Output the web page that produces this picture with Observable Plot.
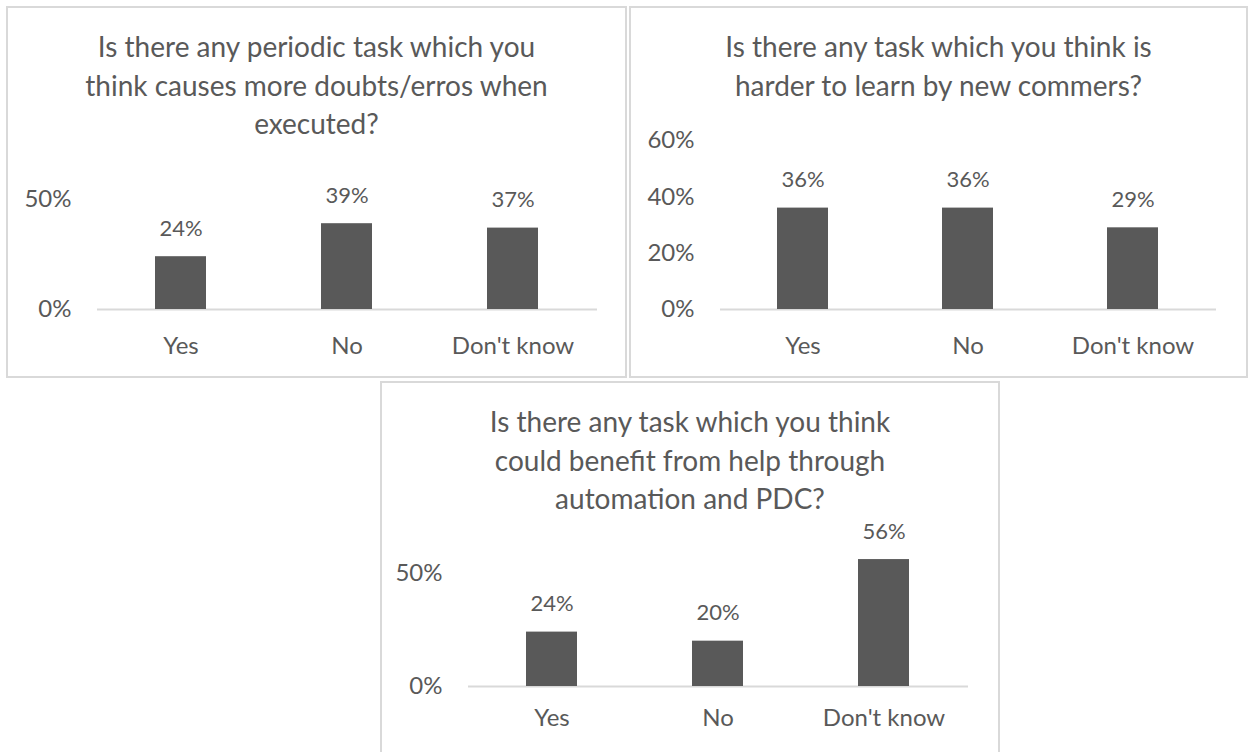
<!DOCTYPE html>
<html>
<head>
<meta charset="utf-8">
<script src="https://cdn.jsdelivr.net/npm/d3@7"></script>
<script src="https://cdn.jsdelivr.net/npm/@observablehq/plot@0.6"></script>
<style>
  html, body { margin: 0; padding: 0; background: #fff; }
  #page { position: relative; width: 1248px; height: 752px; overflow: hidden; background: #fff; font-family: Lato, "Open Sans", sans-serif; }
  .panel { position: absolute; box-sizing: border-box; border: 2px solid #d9d9d9; background: #fff; }
  .title { position: absolute; left: 0; right: 0; text-align: center; color: #595959; font-size: 28px; line-height: 38.5px; white-space: nowrap; }
  .plot { position: absolute; left: 0; }
</style>
</head>
<body>
<div id="page"></div>
<script>
// ---- data ----
const categories = ["Yes", "No", "Don't know"];
const titles = [
  ["Is there any periodic task which you", "think causes more doubts/erros when", "executed?"],
  ["Is there any task which you think is", "harder to learn by new commers?"],
  ["Is there any task which you think", "could benefit from help through", "automation and PDC?"]
];
const valuesDoubts = [0.24, 0.39, 0.37];
const valuesHarder = [0.36, 0.36, 0.29];
const valuesAutomation = [0.24, 0.20, 0.56];
const ticksDoubts = [0, 0.5];
const ticksHarder = [0, 0.2, 0.4, 0.6];
const ticksAutomation = [0, 0.5];

// ---- layout ----
const panels = [
  {title: titles[0], values: valuesDoubts, ticks: ticksDoubts, domain: [0, 0.5],
   left: 6, top: 6, width: 621, height: 372, titleTop: 19,
   svgTop: 144, svgHeight: 226, marginLeft: 91, marginRight: 30, marginTop: 49, marginBottom: 67, xPad: 27},
  {title: titles[1], values: valuesHarder, ticks: ticksHarder, domain: [0, 0.6],
   left: 629, top: 6, width: 619, height: 372, titleTop: 19,
   svgTop: 114, svgHeight: 256, marginLeft: 91, marginRight: 32, marginTop: 20, marginBottom: 67, xPad: 27},
  {title: titles[2], values: valuesAutomation, ticks: ticksAutomation, domain: [0, 0.6],
   left: 380, top: 381, width: 620, height: 380, titleTop: 19,
   svgTop: 139, svgHeight: 226, marginLeft: 88, marginRight: 32, marginTop: 30, marginBottom: 60, xPad: 22}
];

const fmt = d3.format(".0%");
const page = document.getElementById("page");

for (const p of panels) {
  const div = document.createElement("div");
  div.className = "panel";
  Object.assign(div.style, {left: p.left + "px", top: p.top + "px", width: p.width + "px", height: p.height + "px"});
  const t = document.createElement("div");
  t.className = "title";
  t.style.top = p.titleTop + "px";
  t.innerHTML = p.title.join("<br>");
  div.appendChild(t);

  const data = categories.map((c, i) => ({cat: c, val: p.values[i]}));
  const chart = Plot.plot({
    width: p.width - 4,
    height: p.svgHeight,
    marginLeft: p.marginLeft - 2,
    marginRight: p.marginRight - 2,
    marginTop: p.marginTop,
    marginBottom: p.marginBottom,
    style: {fontFamily: "Lato, 'Open Sans', sans-serif", fontSize: "24px", color: "#595959", background: "transparent", overflow: "visible"},
    x: {domain: categories, paddingInner: 0.69, paddingOuter: 0.345},
    y: {domain: p.domain, nice: false},
    marks: [
      Plot.axisY({ticks: p.ticks, tickFormat: fmt, tickSize: 0, tickPadding: 26, label: null, fontSize: 24}),
      Plot.axisX({tickSize: 0, tickPadding: p.xPad, label: null, fontSize: 24}),
      Plot.ruleY([0], {stroke: "#d9d9d9", strokeWidth: 2}),
      Plot.barY(data, {x: "cat", y: "val", fill: "#595959"}),
      Plot.text(data, {x: "cat", y: "val", text: d => fmt(d.val), dy: -28, fill: "#595959", fontSize: 22})
    ]
  });
  chart.classList.add("plot");
  chart.style.top = (p.svgTop - 2) + "px";
  div.appendChild(chart);
  page.appendChild(div);
}
</script>
</body>
</html>
